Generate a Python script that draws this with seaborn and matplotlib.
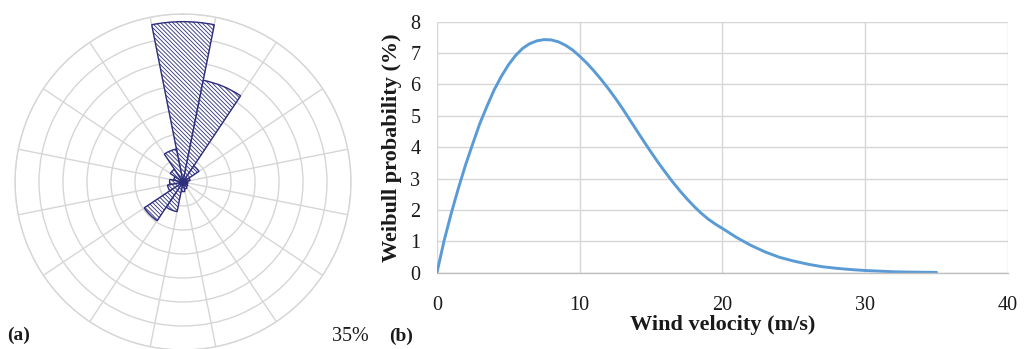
import numpy as np
import pandas as pd
import matplotlib
matplotlib.use("Agg")
import matplotlib.pyplot as plt
import seaborn as sns

# ---------------- data ----------------
directions = ['N', 'NNE', 'NE', 'ENE', 'E', 'ESE', 'SE', 'SSE',
              'S', 'SSW', 'SW', 'WSW', 'W', 'WNW', 'NW', 'NNW']
frequency = [33.4, 21.6, 4.0, 1.5, 1.0, 1.0, 1.2, 1.5,
             2.0, 6.3, 9.7, 3.3, 2.8, 2.0, 3.2, 7.0]

wind_speed = [0, 0.5, 1, 1.5, 2, 2.5, 3, 3.5, 4, 4.5, 5, 5.5, 6, 6.5, 7, 7.5,
              8, 8.5, 9, 9.5, 10, 10.5, 11, 11.5, 12, 12.5, 13, 13.5, 14, 14.5,
              15, 15.5, 16, 16.5, 17, 17.5, 18, 18.5, 19, 19.5, 20,
              21, 22, 23, 24, 25, 26, 27, 28, 29, 30, 31, 32, 33, 34, 35]
weibull_prob = [0.0, 1.02, 1.89, 2.69, 3.43, 4.10, 4.75, 5.30, 5.82, 6.25,
                6.62, 6.92, 7.15, 7.30, 7.39, 7.43, 7.42, 7.36, 7.25, 7.10,
                6.90, 6.68, 6.43, 6.16, 5.87, 5.56, 5.23, 4.88, 4.53, 4.18,
                3.84, 3.51, 3.20, 2.90, 2.62, 2.36, 2.12, 1.90, 1.71, 1.55, 1.41,
                1.12, 0.87, 0.66, 0.49, 0.37, 0.27, 0.19, 0.14, 0.10, 0.07,
                0.05, 0.03, 0.02, 0.015, 0.01]

x_ticks = [0, 10, 20, 30, 40]
y_ticks = [0, 1, 2, 3, 4, 5, 6, 7, 8]
ring_levels = [5, 10, 15, 20, 25, 30, 35]

# ---------------- style ----------------
sns.set_theme(style="white")
plt.rcParams['font.family'] = ['Liberation Serif', 'DejaVu Serif']
navy = '#2d2d7c'
plt.rcParams['hatch.color'] = navy
plt.rcParams['hatch.linewidth'] = 0.6
grid_col = '#d6d6d6'
text_col = '#1a1a1a'

fig = plt.figure(figsize=(10.32, 3.49), dpi=100)

# ---------------- (a) wind rose ----------------
axr = fig.add_axes([0.01453, -0.00287, 0.3256, 0.9628], projection='polar')
axr.set_theta_zero_location('N')
axr.set_theta_direction(-1)
theta = np.deg2rad(np.arange(len(directions)) * 22.5)
axr.bar(theta, frequency, width=np.deg2rad(22.5), bottom=0,
        color='white', edgecolor=navy, linewidth=1.0,
        hatch='\\' * 8, zorder=3)
axr.set_ylim(0, 35)
axr.set_rticks(ring_levels)
axr.set_yticklabels([])
axr.set_thetagrids(np.arange(16) * 22.5 + 11.25, labels=[''] * 16)
axr.grid(True, color=grid_col, linewidth=1.0)
axr.spines['polar'].set_color(grid_col)
axr.spines['polar'].set_linewidth(1.0)
axr.tick_params(pad=0)

# ---------------- (b) Weibull ----------------
ax = fig.add_axes([0.4234, 0.2186, 0.5533, 0.7192])
df = pd.DataFrame({'Wind velocity': wind_speed, 'Weibull': weibull_prob})
sns.lineplot(data=df, x='Wind velocity', y='Weibull', ax=ax,
             color='#5b9bd5', linewidth=2.1)
ax.set_xlim(0, 40)
ax.set_ylim(0, 8)
ax.set_xticks(x_ticks)
ax.set_yticks(y_ticks)
ax.grid(True, color=grid_col, linewidth=1.0)
for s in ['top', 'right', 'left']:
    ax.spines[s].set_visible(False)
ax.spines['bottom'].set_color('#bfbfbf')
ax.spines['bottom'].set_linewidth(1.0)
ax.tick_params(axis='both', length=0, labelsize=14.5, colors=text_col)
ax.tick_params(axis='x', pad=17)
ax.tick_params(axis='y', pad=12)
ax.set_xlabel('Wind velocity (m/s)', fontsize=16, fontweight='bold',
              labelpad=0, color=text_col)
ax.set_ylabel('Weibull probability (%)', fontsize=16, fontweight='bold',
              labelpad=6, color=text_col)

# ---------------- panel labels ----------------
fig.text(7 / 1032, 0.04, '(a)', fontsize=14, fontweight='bold', va='center', ha='left', color=text_col)
fig.text(332 / 1032, 0.035, '35%', fontsize=14.5, va='center', ha='left', color=text_col)
fig.text(389 / 1032, 0.035, '(b)', fontsize=14, fontweight='bold', va='center', ha='left', color=text_col)

fig.savefig('out.png', dpi=100)
